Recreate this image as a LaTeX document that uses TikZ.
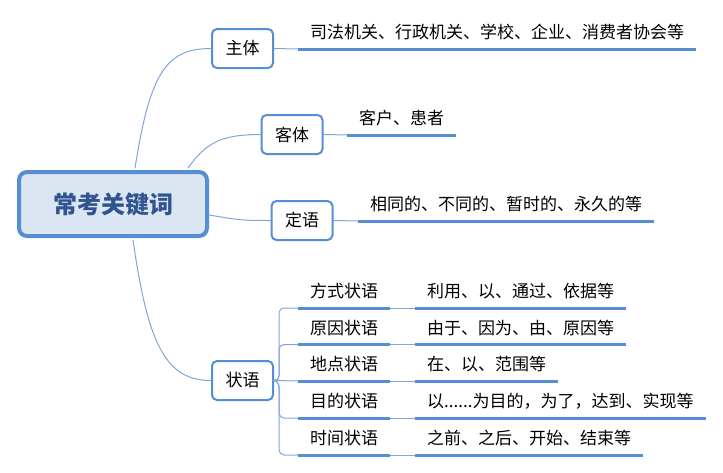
\documentclass[tikz,border=0pt]{standalone}
\usepackage{fontspec}
\newfontfamily\cjk{Noto Sans CJK SC}
\definecolor{mapblue}{HTML}{558ED5}
\definecolor{linkblue}{HTML}{7FA6DC}
\definecolor{rootfill}{HTML}{DCE6F2}
\definecolor{roottext}{HTML}{30548F}
\begin{document}
\begin{tikzpicture}[x=1pt, y=-1pt, line join=round, line cap=round,
  font=\cjk\fontsize{17pt}{20pt}\selectfont,
  root/.style={draw=mapblue, line width=4pt, fill=rootfill, rounded corners=8pt, minimum width=188pt, minimum height=64pt, inner sep=0pt, text=roottext, font=\cjk\bfseries\fontsize{24pt}{28pt}\selectfont},
  topic/.style={draw=mapblue, line width=2pt, fill=white, rounded corners=5pt, minimum width=61pt, minimum height=39pt, inner sep=0pt},
  leaf/.style={anchor=south west, inner xsep=12pt, inner ysep=0pt, text height=15pt, text depth=10pt},
  uline/.style={draw=mapblue, line width=3pt, line cap=butt},
  link/.style={draw=linkblue, line width=1pt}]

	\useasboundingbox (0,0) rectangle (723,472);

	\node[root] (root) at (113,204) {常考关键词};
	\node[topic] (zt) at (242.5,48.5) {主体};
	\node[topic] (kt) at (292,134.5) {客体};
	\node[topic] (dy) at (302,220.5) {定语};
	\node[topic] (zy) at (242.5,380.5) {状语};

	\coordinate (r1) at (135,168);
	\coordinate (r2) at (188,168);
	\coordinate (r3) at (209,215);
	\coordinate (r4) at (133,240);
	\coordinate (br) at (279,381);

	\draw[link] (r1) .. controls +(15,-95) and +(-45,0) .. (zt.west);
	\draw[link] (r2) .. controls +(18,-25) and +(-40,0) .. (kt.west);
	\draw[link] (r3) .. controls +(30,5) and +(-30,0) .. (dy.west);
	\draw[link] (r4) .. controls +(15,105) and +(-45,0) .. (zy.west);

	% leaves
	\node[leaf] (zt1) at (298,49) {司法机关、行政机关、学校、企业、消费者协会等};
	\node[leaf] (kt1) at (347,135) {客户、患者};
	\node[leaf] (dy1) at (358,221) {相同的、不同的、暂时的、永久的等};
	\draw[link] (zt.east) -- (zt1.south west);
	\draw[link] (kt.east) -- (kt1.south west);
	\draw[link] (dy.east) -- (dy1.south west);
	\draw[uline] (zt1.south west) -- (zt1.south east);
	\draw[uline] (kt1.south west) -- (kt1.south east);
	\draw[uline] (dy1.south west) -- (dy1.south east);

	% adverbials
	\node[leaf] (s1) at (298,308) {方式状语};
	\node[leaf] (s2) at (298,344.5) {原因状语};
	\node[leaf] (s3) at (298,381) {地点状语};
	\node[leaf] (s4) at (298,418) {目的状语};
	\node[leaf] (s5) at (298,455) {时间状语};
	\node[leaf] (t1) at (415,308) {利用、以、通过、依据等};
	\node[leaf] (t2) at (415,344.5) {由于、因为、由、原因等};
	\node[leaf] (t3) at (415,381) {在、以、范围等};
	\node[leaf] (t4) at (415,418) {以......为目的，为了，达到、实现等};
	\node[leaf] (t5) at (415,455) {之前、之后、开始、结束等};

	\draw[link, rounded corners=5pt] (zy.east) -- (br) |- (s1.south west);
	\draw[link, rounded corners=5pt] (zy.east) -- (br) |- (s2.south west);
	\draw[link] (zy.east) -- (s3.south west);
	\draw[link, rounded corners=5pt] (zy.east) -- (br) |- (s4.south west);
	\draw[link, rounded corners=5pt] (zy.east) -- (br) |- (s5.south west);
	\draw[link] (s1.south east) -- (t1.south west);
	\draw[link] (s2.south east) -- (t2.south west);
	\draw[link] (s3.south east) -- (t3.south west);
	\draw[link] (s4.south east) -- (t4.south west);
	\draw[link] (s5.south east) -- (t5.south west);
	\draw[uline] (s1.south west) -- (s1.south east) (t1.south west) -- (t1.south east);
	\draw[uline] (s2.south west) -- (s2.south east) (t2.south west) -- (t2.south east);
	\draw[uline] (s3.south west) -- (s3.south east) (t3.south west) -- (t3.south east);
	\draw[uline] (s4.south west) -- (s4.south east) (t4.south west) -- (t4.south east);
	\draw[uline] (s5.south west) -- (s5.south east) (t5.south west) -- (t5.south east);
\end{tikzpicture}
\end{document}
